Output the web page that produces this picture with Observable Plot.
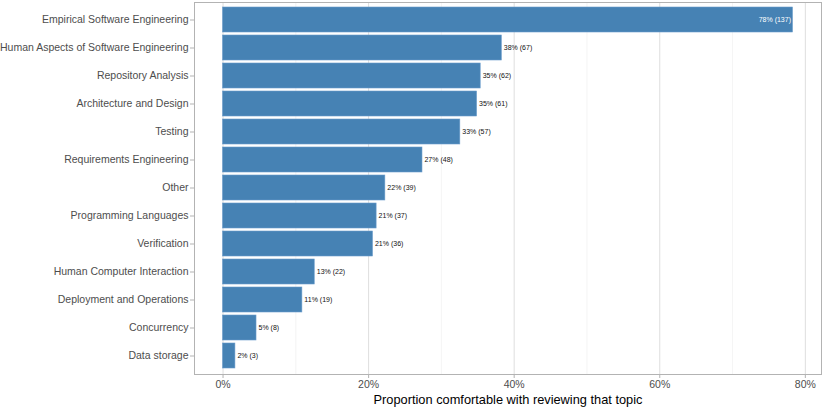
<!DOCTYPE html>
<html>
<head>
<meta charset="utf-8">
<script src="https://cdn.jsdelivr.net/npm/d3@7"></script>
<script src="https://cdn.jsdelivr.net/npm/@observablehq/plot@0.6"></script>
<style>
  html, body { margin: 0; padding: 0; background: #fff; }
  #chart svg { display: block; }
</style>
</head>
<body>
<div id="chart"></div>
<script>
const topics = [
  "Empirical Software Engineering",
  "Human Aspects of Software Engineering",
  "Repository Analysis",
  "Architecture and Design",
  "Testing",
  "Requirements Engineering",
  "Other",
  "Programming Languages",
  "Verification",
  "Human Computer Interaction",
  "Deployment and Operations",
  "Concurrency",
  "Data storage"
];
const proportions = [0.783, 0.383, 0.354, 0.349, 0.326, 0.274, 0.223, 0.211, 0.206, 0.126, 0.109, 0.046, 0.017];
const counts = [137, 67, 62, 61, 57, 48, 39, 37, 36, 22, 19, 8, 3];
const majorTicks = [0, 0.2, 0.4, 0.6, 0.8];
const minorTicks = [0.1, 0.3, 0.5, 0.7];
const xTitle = "Proportion comfortable with reviewing that topic";

const data = topics.map((t, i) => ({
  topic: t,
  p: proportions[i],
  n: counts[i],
  label: `${Math.round(proportions[i] * 100)}% (${counts[i]})`,
  inside: i === 0
}));

const chart = Plot.plot({
  width: 822,
  height: 408,
  marginLeft: 194,
  marginRight: 1,
  marginTop: 2,
  marginBottom: 34,
  style: { fontFamily: "'Liberation Sans', Arial, sans-serif", background: "#fff" },
  x: { domain: [-0.0392, 0.8222], axis: null },
  y: { domain: topics, paddingInner: 0.1, paddingOuter: 0.1, axis: null },
  marks: [
    Plot.gridX(minorTicks, { stroke: "#ededed", strokeOpacity: 1, strokeWidth: 0.6 }),
    Plot.gridX(majorTicks, { stroke: "#dedede", strokeOpacity: 1, strokeWidth: 1 }),
    Plot.barX(data, { x1: 0, x2: "p", y: "topic", fill: "#4682B4", stroke: "#6a9ccb", strokeWidth: 0.6 }),
    Plot.text(data.filter(d => !d.inside), { x: "p", y: "topic", text: "label", dx: 2, textAnchor: "start", fontSize: 7, fill: "#111" }),
    Plot.text(data.filter(d => d.inside), { x: "p", y: "topic", text: "label", dx: -2, textAnchor: "end", fontSize: 7, fill: "#fff" }),
    Plot.frame({ stroke: "#b3b3b3", strokeWidth: 1 }),
    Plot.axisY({ tickSize: 4, tickPadding: 2, fontSize: 10.5, fill: "#4d4d4d", stroke: "#b3b3b3", label: null }),
    Plot.axisX(majorTicks, { tickSize: 4, tickPadding: 2, fontSize: 10.5, fill: "#4d4d4d", stroke: "#b3b3b3", tickFormat: d3.format(".0%"), label: null }),
    Plot.text([xTitle], { frameAnchor: "bottom", lineAnchor: "middle", dy: 25, text: d => d, fontSize: 12.8, fill: "#000" })
  ]
});

document.getElementById("chart").appendChild(chart);
</script>
</body>
</html>
